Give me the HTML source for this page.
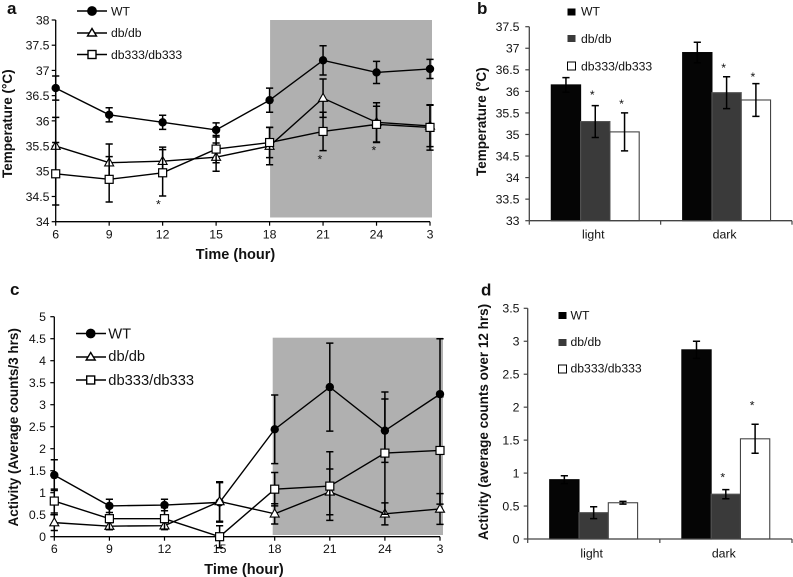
<!DOCTYPE html>
<html lang="en">
<head>
<meta charset="utf-8">
<title>Temperature and activity charts</title>
<style>
html,body{margin:0;padding:0;background:#fff;}
#figure{position:absolute;left:0;top:0;width:793px;height:577px;display:block;filter:blur(.3px);font-family:"Liberation Sans",Arial,sans-serif;fill:#111;}
.tick{font-size:12.3px;}
.title{font-size:13.5px;font-weight:bold;}
.xtitle{font-size:14.5px;font-weight:bold;}
.letter{font-size:17px;font-weight:bold;}
.leg{font-size:12.2px;}
.legc{font-size:14.7px;}
</style>
</head>
<body>
<svg id="figure" xmlns="http://www.w3.org/2000/svg" width="793" height="577" viewBox="0 0 793 577">
  <rect width="793" height="577" fill="#fff"/>
  <g id="layer-a"></g>
  <g id="layer-b"></g>
  <g id="layer-c"></g>
  <g id="layer-d"></g>

  <text class="letter" x="7" y="14">a</text>
  <text class="letter" x="477" y="14">b</text>
  <text class="letter" x="10" y="295">c</text>
  <text class="letter" x="481" y="295.500">d</text>

  <text class="title" text-anchor="middle" transform="translate(12,123.7) rotate(-90)">Temperature (°C)</text>
  <text class="xtitle" text-anchor="middle" x="235.5" y="259">Time (hour)</text>
  <text class="title" text-anchor="middle" transform="translate(486,121.7) rotate(-90)">Temperature (°C)</text>
  <text class="title" text-anchor="middle" transform="translate(18,427.3) rotate(-90)">Activity (Average counts/3 hrs)</text>
  <text class="xtitle" text-anchor="middle" x="244" y="574">Time (hour)</text>
  <text class="title" text-anchor="middle" transform="translate(488,422) rotate(-90)">Activity (average counts over 12 hrs)</text>

  <g stroke="#000" stroke-width="1.4">
    <line x1="77" x2="107" y1="11" y2="11"/>
    <circle cx="92" cy="11" r="4.2" fill="#000"/>
    <line x1="77" x2="107" y1="33" y2="33"/>
    <polygon points="92,28.5 96.5,36 87.5,36" fill="#fff"/>
    <line x1="77" x2="107" y1="54.500" y2="54.500"/>
    <rect x="88" y="50.500" width="8" height="8" fill="#fff"/>
    <g stroke="none">
      <text class="leg" x="111" y="15.500">WT</text>
      <text class="leg" x="111" y="37">db/db</text>
      <text class="leg" x="111" y="59">db333/db333</text>
    </g>
  </g>

  <g>
    <rect x="567.500" y="8.500" width="8" height="7" fill="#000"/>
    <rect x="567.500" y="35" width="8" height="7" fill="#3a3a3a"/>
    <rect x="567.500" y="62" width="8" height="8" fill="#fff" stroke="#000"/>
    <text class="leg" x="581" y="15.500">WT</text>
    <text class="leg" x="581" y="43">db/db</text>
    <text class="leg" x="581" y="70.500">db333/db333</text>
  </g>

  <g stroke="#000" stroke-width="1.4">
    <line x1="76" x2="106" y1="333.500" y2="333.500"/>
    <circle cx="90.700" cy="333.500" r="4.200" fill="#000"/>
    <line x1="76" x2="106" y1="357" y2="357"/>
    <polygon points="90.700,352.500 95.200,360 86.200,360" fill="#fff"/>
    <line x1="76" x2="106" y1="380" y2="380"/>
    <rect x="86.700" y="376" width="8" height="8" fill="#fff"/>
    <g stroke="none">
      <text class="legc" x="108.300" y="338.500">WT</text>
      <text class="legc" x="108.300" y="361">db/db</text>
      <text class="legc" x="108.300" y="385">db333/db333</text>
    </g>
  </g>

  <g>
    <rect x="558.500" y="312" width="8" height="7" fill="#000"/>
    <rect x="558.500" y="339" width="8" height="7" fill="#3a3a3a"/>
    <rect x="558.500" y="365" width="8" height="8" fill="#fff" stroke="#000"/>
    <text class="leg" x="570.500" y="319.500">WT</text>
    <text class="leg" x="570.500" y="346">db/db</text>
    <text class="leg" x="570.500" y="372.500">db333/db333</text>
  </g>
</svg>

<script>
// Shared categories
const timeLabels = ['6','9','12','15','18','21','24','3'];
const phaseLabels = ['light','dark'];
const seriesNames = ['wt','dbdb','db333'];

// Panel a: body temperature over time
const tempLineTicks = [34,34.5,35,35.5,36,36.5,37,37.5,38];
const aWT = [36.65,36.12,35.97,35.82,36.41,37.2,36.96,37.03];
const aWTErr = [0.24,0.14,0.14,0.14,0.24,0.29,0.22,0.19];
const aDb = [35.5,35.17,35.2,35.28,35.5,36.45,35.97,35.9];
const aDbErr = [0.57,0.37,0.28,0.28,0.37,0.38,0.39,0.41];
const aSq = [34.95,34.84,34.97,35.44,35.57,35.79,35.93,35.87];
const aSqErr = [0.62,0.45,0.46,0.27,0.3,0.38,0.36,0.45];
const aStarCategory = [1.92,4.94,5.95];
const aStarValue = [34.4,35.29,35.47];

// Panel b: mean temperature light/dark
const tempBarTicks = [33,33.5,34,34.5,35,35.5,36,36.5,37,37.5];
const bWT = [36.15,36.9];
const bWTErr = [0.17,0.24];
const bDb = [35.3,35.97];
const bDbErr = [0.37,0.37];
const bSq = [35.06,35.8];
const bSqErr = [0.44,0.38];
const bStarDb = [35.99,36.61];
const bStarSq = [35.78,36.4];

// Panel c: activity over time
const actLineTicks = [0,0.5,1,1.5,2,2.5,3,3.5,4,4.5,5];
const cWT = [1.4,0.7,0.72,0.78,2.44,3.4,2.41,3.24];
const cWTErr = [0.35,0.15,0.13,0.45,0.78,1.0,0.72,1.26];
const cDb = [0.32,0.24,0.25,0.8,0.52,1.02,0.52,0.63];
const cDbErr = [0.18,0.08,0.08,0.45,0.23,0.52,0.25,0.35];
const cSq = [0.81,0.41,0.41,0,1.08,1.15,1.9,1.96];
const cSqErr = [0.27,0.25,0.25,0.25,0.38,0.78,1.39,1.22];

// Panel d: mean activity light/dark
const actBarTicks = [0,0.5,1,1.5,2,2.5,3,3.5];
const dWT = [0.9,2.87];
const dWTErr = [0.06,0.13];
const dDb = [0.4,0.68];
const dDbErr = [0.09,0.07];
const dSq = [0.55,1.52];
const dSqErr = [0.02,0.22];
const dStarDb = [null,0.98];
const dStarSq = [null,2.07];

const SVG_NS = 'http://www.w3.org/2000/svg';
function mk(tag, attrs, parent, txt) {
  const n = document.createElementNS(SVG_NS, tag);
  for (const k in attrs) n.setAttribute(k, attrs[k]);
  if (txt !== undefined) n.textContent = txt;
  parent.appendChild(n);
  return n;
}
function scaleY(f) {
  return function (v) { return f.y0 + (v - f.vmin) * (f.y1 - f.y0) / (f.vmax - f.vmin); };
}

function drawValueAxis(layer, f, ticks, y) {
  const axis = mk('line', {x1:f.x0, x2:f.x0, y1:f.y0, y2:f.y1, stroke:f.axisColor, 'stroke-width':1.3}, layer);
  
  
  const base = mk('line', {x1:f.x0, x2:f.x1, y1:f.y0, y2:f.y0, stroke:f.axisColor, 'stroke-width':1.3}, layer);
  
  
  ticks.forEach(function (t) {
    const mark = mk('line', {x1:f.x0 - 4, x2:f.x0, y1:y(t), y2:y(t), stroke:f.axisColor, 'stroke-width':1.2}, layer);
    
    
    const label = mk('text', {class:'tick', x:f.labelRight, y:y(t) + 4.4, 'text-anchor':'end'}, layer, String(t));
    
    
  });
}

function drawLinePanel(layer, f, ticks, series) {
  const y = scaleY(f);
  const x = function (i) { return f.x0 + i * (f.x1 - f.x0) / (timeLabels.length - 1); };
  const shade = mk('rect', {x:x(f.shadeFrom) + f.shadePad, y:f.shadeTop, width:x(timeLabels.length - 1) - x(f.shadeFrom) + f.shadeExtra - f.shadePad, height:f.shadeBottom - f.shadeTop, fill:'#b0b0b0'}, layer);
  
  
  drawValueAxis(layer, f, ticks, y);
  timeLabels.forEach(function (t, i) {
    const mark = mk('line', {x1:x(i), x2:x(i), y1:f.y0, y2:f.y0 + 4, stroke:f.axisColor, 'stroke-width':1.2}, layer);
    
    
    const label = mk('text', {class:'tick', x:x(i), y:f.xLabelY, 'text-anchor':'middle'}, layer, t);
    
    
  });
  series.forEach(function (s, k) {
    const g = mk('g', {}, layer);
    
    
    s.values.forEach(function (v, i) {
      const e = s.errs[i];
      const top = y(v + e), bot = y(v - e);
      const bar = mk('path', {d:'M' + x(i) + ' ' + top + 'V' + bot + 'M' + (x(i) - 3.6) + ' ' + top + 'h7.2M' + (x(i) - 3.6) + ' ' + bot + 'h7.2', stroke:'#000', 'stroke-width':1.5, fill:'none'}, g);
      
      
    });
    const pts = s.values.map(function (v, i) { return x(i) + ',' + y(v); }).join(' ');
    const line = mk('polyline', {points:pts, fill:'none', stroke:'#000', 'stroke-width':1.4}, g);
    
    
    s.values.forEach(function (v, i) {
      const px = x(i), py = y(v);
      let m;
      if (k === 0) {
        m = mk('circle', {cx:px, cy:py, r:4.2, fill:'#000'}, g);
      } else if (k === 1) {
        m = mk('polygon', {points:px + ',' + (py - 4.8) + ' ' + (px + 4.5) + ',' + (py + 3.2) + ' ' + (px - 4.5) + ',' + (py + 3.2), fill:'#fff', stroke:'#000', 'stroke-width':1.1}, g);
      } else {
        m = mk('rect', {x:px - 4, y:py - 4, width:8, height:8, fill:'#fff', stroke:'#000', 'stroke-width':1.2}, g);
      }
      
      
    });
  });
  (f.starCategory || []).forEach(function (c, i) {
    const star = mk('text', {class:'tick', x:x(c), y:y(f.starValue[i]) + 7, 'text-anchor':'middle'}, layer, '*');
    
    
  });
}

function drawBarPanel(layer, f, ticks, series, stars) {
  const y = scaleY(f);
  const catW = (f.x1 - f.x0) / phaseLabels.length;
  const left = function (c, k) { return f.x0 + c * catW + f.groupPad + k * f.barW; };
  const fills = ['#050505', '#3a3a3a', '#ffffff'];
  const edges = ['#050505', '#555555', '#444444'];
  series.forEach(function (s, k) {
    s.values.forEach(function (v, c) {
      const bar = mk('rect', {x:left(c, k), y:y(v), width:f.barW, height:f.y0 - y(v), fill:fills[k], stroke:edges[k], 'stroke-width':1.1}, layer);
      
      
    });
  });
  drawValueAxis(layer, f, ticks, y);
  for (let c = 0; c <= phaseLabels.length; c++) {
    const px = f.x0 + c * catW;
    const mark = mk('line', {x1:px, x2:px, y1:f.y0, y2:f.y0 + 4, stroke:f.axisColor, 'stroke-width':1.2}, layer);
    
    
  }
  phaseLabels.forEach(function (t, c) {
    const label = mk('text', {class:'tick', x:left(c, 1) + f.barW / 2 - 2, y:f.xLabelY, 'text-anchor':'middle'}, layer, t);
    
    
  });
  series.forEach(function (s, k) {
    s.values.forEach(function (v, c) {
      const cx = left(c, k) + f.barW / 2, e = s.errs[c];
      const top = y(v + e), bot = y(v - e);
      const err = mk('path', {d:'M' + cx + ' ' + top + 'V' + bot + 'M' + (cx - 3.6) + ' ' + top + 'h7.2M' + (cx - 3.6) + ' ' + bot + 'h7.2', stroke:'#000', 'stroke-width':1.5, fill:'none'}, layer);
      
      
    });
  });
  stars.forEach(function (st) {
    st.values.forEach(function (v, c) {
      if (v === null) return;
      const star = mk('text', {class:'tick', x:left(c, st.k) + f.barW / 2 - 3, y:y(v) + 7, 'text-anchor':'middle'}, layer, '*');
      
      
    });
  });
}

drawLinePanel(document.getElementById('layer-a'),
  {x0:55.7, x1:430, y0:221.7, y1:20, vmin:34, vmax:38, axisColor:'#000', labelRight:49.5, xLabelY:238.5,
   shadeFrom:4, shadePad:0.5, shadeExtra:2, shadeTop:20, shadeBottom:217.500, starCategory:aStarCategory, starValue:aStarValue},
  tempLineTicks,
  [{values:aWT, errs:aWTErr}, {values:aDb, errs:aDbErr}, {values:aSq, errs:aSqErr}]);

drawBarPanel(document.getElementById('layer-b'),
  {x0:529.3, x1:792, y0:220.7, y1:26.7, vmin:33, vmax:37.5, axisColor:'#444', labelRight:519.5, xLabelY:238.5, barW:29.3, groupPad:22},
  tempBarTicks,
  [{values:bWT, errs:bWTErr}, {values:bDb, errs:bDbErr}, {values:bSq, errs:bSqErr}],
  [{k:1, values:bStarDb}, {k:2, values:bStarSq}]);

drawLinePanel(document.getElementById('layer-c'),
  {x0:54.3, x1:440, y0:536.7, y1:316.7, vmin:0, vmax:5, axisColor:'#000', labelRight:46, xLabelY:553,
   shadeFrom:4, shadePad:-2, shadeExtra:3, shadeTop:337.700, shadeBottom:535},
  actLineTicks,
  [{values:cWT, errs:cWTErr}, {values:cDb, errs:cDbErr}, {values:cSq, errs:cSqErr}]);

drawBarPanel(document.getElementById('layer-d'),
  {x0:527.7, x1:792, y0:539, y1:308.3, vmin:0, vmax:3.5, axisColor:'#444', labelRight:519.5, xLabelY:557.500, barW:29.3, groupPad:22},
  actBarTicks,
  [{values:dWT, errs:dWTErr}, {values:dDb, errs:dDbErr}, {values:dSq, errs:dSqErr}],
  [{k:1, values:dStarDb}, {k:2, values:dStarSq}]);
</script>
</body>
</html>
